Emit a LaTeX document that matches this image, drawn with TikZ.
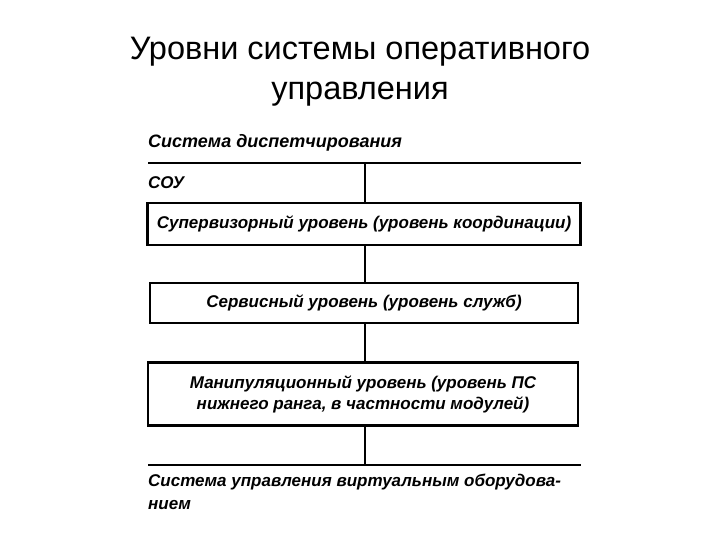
\documentclass[tikz,border=0pt]{standalone}
\usepackage{fontspec}
\setmainfont{Liberation Sans}
\begin{document}
\begin{tikzpicture}[x=1pt,y=-1pt,
  lbl/.style={font=\fontsize{17}{20}\selectfont\bfseries\itshape, inner sep=0pt},
  lvl/.style={draw, line width=2.5pt, minimum height=42pt, inner sep=2pt, align=center, font=\fontsize{17}{20}\selectfont\bfseries\itshape},
  ln/.style={line width=2.5pt},
  title/.style={font=\fontsize{32.5}{40}\selectfont, align=center, inner sep=0pt}]
\useasboundingbox (0,0) rectangle (720,540);
\node[title] (title) at (360,72) {Уровни системы оперативного\\управления};
% top bar
\coordinate (tl) at (148,163);
\coordinate (tr) at (581,163);
\coordinate (tm) at (365,163);
\draw[ln] (tl) -- (tr);
\node[lbl, anchor=west, font=\fontsize{18}{20}\selectfont\bfseries\itshape] (disp) at (148,143) {Система диспетчирования};
\node[lbl, anchor=west] (sou) at (148,183) {СОУ};
% boxes
\node[lvl, minimum width=433pt] (sup) at (364,224) {Супервизорный уровень (уровень координации)};
\node[lvl, minimum width=428pt, minimum height=40pt] (serv) at (364,303) {Сервисный уровень (уровень служб)};
\node[lvl, minimum width=430pt, minimum height=63pt, font=\fontsize{17}{21}\selectfont\bfseries\itshape] (man) at (363,394) {Манипуляционный уровень (уровень ПС\\нижнего ранга, в частности модулей)};
% bottom bar
\coordinate (bl) at (148,465);
\coordinate (br) at (581,465);
\coordinate (bm) at (365,465);
\draw[ln] (bl) -- (br);
\node[lbl, anchor=north west, align=left, font=\fontsize{17}{23}\selectfont\bfseries\itshape] (virt) at (148,474) {Система управления виртуальным оборудова-\\нием};
% connectors
\draw[ln] (tm) -- (sup.north -| tm);
\draw[ln] (sup.south -| tm) -- (serv.north -| tm);
\draw[ln] (serv.south -| tm) -- (man.north -| tm);
\draw[ln] (man.south -| tm) -- (bm);
\end{tikzpicture}
\end{document}
